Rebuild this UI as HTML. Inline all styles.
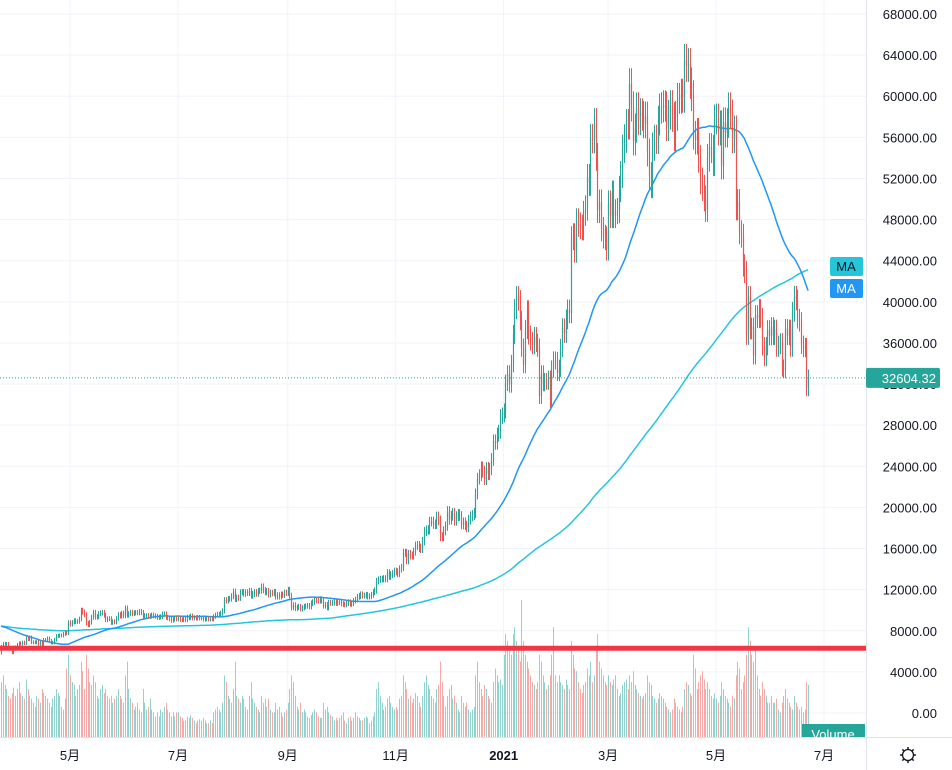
<!DOCTYPE html>
<html><head><meta charset="utf-8">
<style>
html,body{margin:0;padding:0;background:#fff;}
svg{display:block;font-family:"Liberation Sans","Noto Sans CJK SC",sans-serif;}
</style></head>
<body>
<svg id="chart" width="952" height="770" viewBox="0 0 952 770"></svg>
<script>
const priorCloses=[7200,6980,7340,7350,7760,8160,8040,7820,8200,8020,8180,8110,8810,8820,8720,8900,8910,8700,8650,8630,8380,8430,8340,8600,8330,8900,9360,9390,9350,9290,9350,
9390,9340,9290,9190,9620,9730,9790,9900,10160,9850,10270,10350,10230,10360,9920,9700,9600,10200,9590,9600,9690,9660,9960,9660,9310,8780,8790,8670,8540,
8530,8920,8760,8750,9070,9150,8900,8030,7930,7910,7910,4970,5560,5200,5390,5010,5360,6190,6160,6210,6190,5830];
const closes=[6480,6750,6700,6740,6370,6250,5880,6400,6420,
6640,6800,6740,6870,6780,7270,7180,7360,6860,6890,6860,6910,6620,6880,6640,7120,7100,7260,7040,6840,6850,7130,7490,7510,7540,7550,7700,7800,7770,8800,
8630,8830,8990,8890,8910,9150,9990,9810,9560,8730,8570,8820,9320,9790,9320,9380,9670,9730,9790,9510,9070,9170,9180,8790,8900,8840,9200,9570,9430,9700,9460,
10200,9520,9660,9800,9670,9740,9780,9750,9870,9770,9320,9480,9480,9390,9430,9530,9460,9410,9290,9330,9370,9620,9640,9300,9250,9160,9010,9120,9190,9140,
9230,9090,9070,9130,9070,9340,9250,9430,9240,9280,9230,9300,9240,9250,9130,9150,9160,9130,9180,9160,9390,9530,9600,9550,9700,9930,11000,10920,11100,11110,11350,
11800,11070,11230,11190,11740,11770,11600,11750,11680,11880,11410,11580,11780,11600,11860,11900,12290,11950,11750,11860,11520,11680,11650,11770,11330,11460,11320,11530,11470,11710,11680,
11970,11410,10250,10510,10170,10280,10370,10130,10240,10360,10400,10440,10330,10680,10790,10950,10940,10930,11080,10920,10420,10540,10240,10740,10690,10730,10770,10690,10840,10780,
10620,10570,10550,10670,10790,10600,10670,10920,11050,11300,11380,11540,11430,11430,11500,11320,11360,11500,11750,11910,12820,12970,13030,13030,13080,13030,13650,13280,13460,13560,13800,
13740,13550,14020,14150,15590,15580,14830,15480,15330,15300,15700,16280,16320,16070,15960,16720,17650,17800,17820,18620,18640,18370,18360,19110,18730,17150,17140,17720,18180,19630,
18800,19200,19450,18700,19150,19360,19170,18320,18550,18250,18030,18800,19140,19250,19440,21310,22800,23130,23870,23480,22750,23820,23240,23730,24660,26440,26270,27080,27360,28840,29000,
29370,32130,33000,31970,33990,36820,39290,40520,40140,38190,35540,33900,37310,39160,36760,36170,35790,36630,36020,35540,30830,33000,32100,32280,32250,32500,30430,33460,34320,34270,33110,
33540,35510,37470,36930,38290,39250,38900,46200,46480,44920,47910,47500,47290,47160,48600,49130,52110,51600,55900,55840,57410,54090,48890,49680,47070,46340,46180,45140,
49600,48380,50540,48380,48760,48880,50970,52380,54880,55880,57330,57220,61190,59000,55630,56900,58910,57640,58350,58100,57350,58030,54530,52280,51370,55090,55830,55780,57620,58800,58920,
59100,59000,57070,58200,59120,57980,56040,58090,59790,59790,60200,59890,63500,62970,63100,61270,60050,56200,55720,56470,53900,51760,51090,50050,49000,54020,55030,54860,53570,57750,
57830,56630,57200,53240,57480,56420,57380,58900,58230,55860,56710,49150,49720,46760,46430,43540,42910,36730,40520,37280,37530,34770,38710,38400,39290,38440,35670,34600,35680,37290,36680,
37570,36700,37330,35540,35800,36040,33560,33400,37390,36700,37340,35550,39020,40540,40180,38350,38050,35820,35490,35600,31600,32604];
const volumes=[40,45,38,35,30,28,32,36,30,
35,40,32,30,28,42,35,30,28,25,22,30,28,25,35,32,30,28,25,22,28,30,35,32,30,22,20,28,50,60,
45,40,38,30,35,38,55,48,35,60,50,40,38,45,40,30,28,35,38,32,35,30,28,30,25,28,30,35,30,28,25,
45,55,35,28,25,20,22,25,20,18,35,25,20,22,28,20,18,15,18,15,20,18,22,25,20,18,15,18,15,18,
18,15,14,12,12,15,14,16,14,12,10,12,13,12,14,12,10,10,12,10,18,20,22,20,18,25,45,40,30,28,25,
35,55,30,28,25,30,28,22,20,30,40,28,25,22,20,18,30,25,28,22,28,20,18,18,25,20,22,18,15,18,20,
25,35,45,40,30,22,20,25,18,20,18,15,14,16,18,20,18,15,14,14,25,20,22,18,16,15,12,14,12,14,
16,18,12,10,14,15,12,14,18,15,14,12,12,14,15,14,10,12,15,18,35,40,30,25,20,22,28,30,25,22,20,
22,20,28,30,45,40,35,28,30,25,28,32,30,25,22,30,40,45,38,35,30,28,25,35,38,55,40,30,22,30,
35,38,28,30,25,20,18,30,25,22,25,20,18,20,22,45,55,40,35,30,38,35,30,28,25,40,50,45,40,42,38,
60,75,70,65,60,75,80,70,65,55,100,70,60,55,50,45,40,38,35,40,60,55,45,40,35,38,45,60,80,45,40,
45,40,38,35,42,38,35,70,60,50,48,40,35,32,38,40,50,45,55,40,45,65,75,55,50,45,40,38,
45,40,38,42,45,35,30,32,38,40,42,35,45,40,48,38,35,32,30,28,30,32,45,40,38,30,28,25,28,32,30,
28,25,22,20,18,20,28,25,22,20,18,22,35,40,38,32,30,60,50,35,40,45,48,42,35,40,35,30,28,32,
28,25,30,40,35,30,28,25,22,30,28,45,55,50,35,40,45,60,80,70,60,55,65,45,35,30,40,35,30,25,25,
30,25,25,28,20,18,25,30,35,28,25,22,20,30,25,22,20,22,18,20,40,38];
const priceTicks=[0,4000,8000,12000,16000,20000,24000,28000,32000,36000,40000,44000,48000,52000,56000,60000,64000,68000];
const monthLabels=["5月","7月","9月","11月","2021","3月","5月","7月"];
const monthStartIdx=[39,100,162,223,284,343,404,465];
const supportLevel=6300;
const lastPrice=32604.32;

const NS="http://www.w3.org/2000/svg";
const svg=document.getElementById('chart');
const PW=866, AXB=737;
const yP=p=>713-p*(699/68000);
const xI=i=>70+(i-39)*1.77;
function mk(tag,attrs,parent){const e=document.createElementNS(NS,tag);for(const k in attrs)e.setAttribute(k,attrs[k]);(parent||svg).appendChild(e);return e;}

const grid=mk('g',{});


priceTicks.forEach(t=>{mk('line',{x1:0,x2:PW,y1:yP(t),y2:yP(t),stroke:'#f0f3fa','stroke-width':1},grid);});
monthStartIdx.forEach(i=>{mk('line',{x1:xI(i),x2:xI(i),y1:0,y2:AXB,stroke:'#f0f3fa','stroke-width':1},grid);});

const clip=mk('clipPath',{id:'pc'});mk('rect',{x:0,y:0,width:PW,height:AXB},clip);
const plot=mk('g',{'clip-path':'url(#pc)'});



const volG=mk('g',{},plot);


volumes.forEach((v,i)=>{
  const c=closes[i], o=i>0?closes[i-1]:priorCloses[priorCloses.length-1];
  const h=v*1.37;
  const r=mk('rect',{x:Math.round(xI(i)),y:AXB-h,width:1,height:h,fill:c>=o?'rgba(38,166,154,0.5)':'rgba(239,83,80,0.5)'},volG);
  
  
});

const all=priorCloses.concat(closes), off=priorCloses.length;
function ma(n){const pts=[];for(let i=0;i<closes.length;i++){const j=i+off;const s=Math.max(0,j-n+1);let sum=0;for(let k=s;k<=j;k++)sum+=all[k];pts.push(xI(i).toFixed(1)+','+yP(sum/(j-s+1)).toFixed(1));}return pts.join(' ');}
const ma200=mk('polyline',{points:ma(200),fill:'none',stroke:'#26c6da','stroke-width':1.5},plot);


const ma50=mk('polyline',{points:ma(50),fill:'none',stroke:'#2196f3','stroke-width':1.5},plot);



const cG=mk('g',{},plot);


closes.forEach((c,i)=>{
  const o=i>0?closes[i-1]:priorCloses[priorCloses.length-1];
  const hi=Math.max(o,c)*1.025, lo=Math.min(o,c)*0.975;
  const col=c>=o?'#26a69a':'#ef5350';
  const x=Math.round(xI(i))+0.5;
  const l=mk('line',{x1:x,x2:x,y1:yP(hi),y2:yP(lo),stroke:col,'stroke-width':1},cG);
  
  
  const r=mk('rect',{x:x-0.6,y:yP(Math.max(o,c)),width:1.2,height:Math.max(1,Math.abs(yP(o)-yP(c))),fill:col},cG);
  
  
});

const sup=mk('line',{x1:0,x2:PW,y1:yP(supportLevel),y2:yP(supportLevel),stroke:'#f23645','stroke-width':5});


const lp=mk('line',{x1:0,x2:PW,y1:yP(lastPrice),y2:yP(lastPrice),stroke:'#26a69a','stroke-width':1,'stroke-dasharray':'1,2'});



mk('line',{x1:PW+0.5,x2:PW+0.5,y1:0,y2:770,stroke:'#e0e3eb'});
mk('line',{x1:0,x2:952,y1:AXB+0.5,y2:AXB+0.5,stroke:'#e0e3eb'});
priceTicks.forEach(t=>{
  const tx=mk('text',{x:937,y:yP(t)+5,'text-anchor':'end','font-size':13,fill:'#131722'});
  tx.textContent=t.toFixed(2);
  
  
});
monthLabels.forEach((m,k)=>{
  const tx=mk('text',{x:xI(monthStartIdx[k]),y:760,'text-anchor':'middle','font-size':13,fill:'#131722','font-weight':m==='2021'?'bold':'normal'});
  tx.textContent=m;
  
  
});

const pl=mk('g',{});


mk('rect',{x:866,y:yP(lastPrice)-10,width:74,height:20,rx:2,fill:'#26a69a'},pl);
const pt=mk('text',{x:936,y:yP(lastPrice)+5,'text-anchor':'end','font-size':13,fill:'#fff'},pl);pt.textContent=lastPrice.toFixed(2);

function maLabel(y,col,name){const g=mk('g',{});
 mk('rect',{x:830,y:y,width:33,height:19,rx:2,fill:col},g);
 const t=mk('text',{x:846,y:y+14,'text-anchor':'middle','font-size':13,fill:col==='#26c6da'?'#131722':'#fff'},g);t.textContent='MA';}
maLabel(257,'#26c6da','ma-200-label');
maLabel(279,'#2196f3','ma-50-label');

const vl=mk('g',{});


mk('rect',{x:802,y:724,width:63,height:13,fill:'#26a69a'},vl);
const vt=mk('text',{x:833,y:739,'text-anchor':'middle','font-size':13,fill:'#fff'},vl);vt.textContent='Volume';

const gear=mk('g',{transform:'translate(908,755)'});


mk('circle',{cx:0,cy:0,r:5.5,fill:'none',stroke:'#131722','stroke-width':1.3},gear);
for(let a=0;a<8;a++){const r=a*Math.PI/4;mk('line',{x1:Math.cos(r)*5.5,y1:Math.sin(r)*5.5,x2:Math.cos(r)*8,y2:Math.sin(r)*8,stroke:'#131722','stroke-width':1.5},gear);}
</script>
</body></html>
